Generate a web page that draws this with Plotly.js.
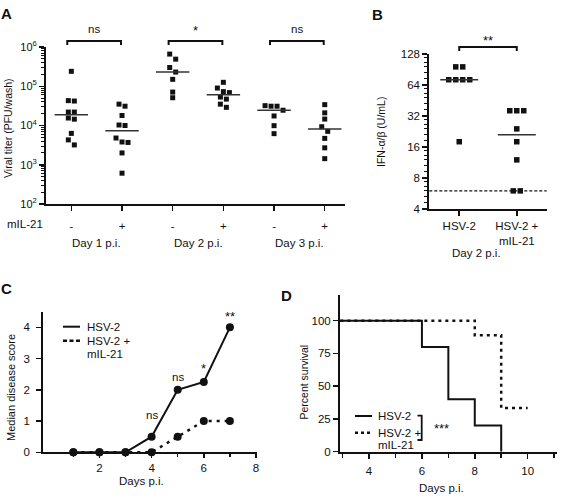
<!DOCTYPE html>
<html>
<head>
<meta charset="utf-8">
<script src="https://cdn.plot.ly/plotly-3.0.1.min.js"></script>
<style>
  html, body { margin: 0; padding: 0; background: #fff; }
  #fig { width: 571px; height: 499px; }
</style>
</head>
<body>
<div id="fig"></div>
<script>
// ---------- Panel A: viral titer in vaginal washes (PFU/wash) ----------
const dayLabelsA = ['Day 1 p.i.', 'Day 2 p.i.', 'Day 3 p.i.'];
const signsA = ['-', '+', '-', '+', '-', '+'];
const titerD1Ctrl = [2.4e5, 4.2e4, 4.3e4, 2.2e4, 2.2e4, 1.45e4, 1.55e4, 6.3e3, 4.3e3, 3.2e3];
const titerD1IL21 = [3.5e4, 3.1e4, 1.8e4, 1.0e4, 1.03e4, 4.8e3, 3.7e3, 3.8e3, 2.0e3, 6.1e2];
const titerD2Ctrl = [6.6e5, 4.9e5, 3.0e5, 2.3e5, 1.5e5, 7.1e4, 5.1e4];
const titerD2IL21 = [1.26e5, 9.0e4, 7.3e4, 6.9e4, 5.3e4, 4.7e4, 3.5e4, 2.9e4];
const titerD3Ctrl = [3.2e4, 3.1e4, 3.1e4, 2.45e4, 1.75e4, 9.9e3, 6.2e3];
const titerD3IL21 = [3.4e4, 2.1e4, 1.46e4, 9.3e3, 7.1e3, 4.7e3, 2.7e3, 1.43e3];
const sigA = ['ns', '*', 'ns'];

// ---------- Panel B: IFN-alpha/beta at day 2 p.i. ----------
const groupsB = ['HSV-2', 'HSV-2 +<br>mIL-21'];
const ifnCtrl = [96, 96, 72, 72, 72, 72, 18];
const ifnIL21 = [36, 36, 36, 24, 18, 12, 6, 6];
const ifnDetectionLimit = 6;
const sigB = '**';

// ---------- Panel C: median disease score ----------
const daysC = [1, 2, 3, 4, 5, 6, 7];
const scoreCtrl = [0, 0, 0, 0.5, 2, 2.25, 4];
const scoreIL21 = [0, 0, 0, 0, 0.5, 1, 1];
const sigDaysC = [4, 5, 6, 7];
const sigC = ['ns', 'ns', '*', '**'];

// ---------- Panel D: survival ----------
const survDaysCtrl = [0, 6, 7, 8, 9];
const survCtrl = [100, 80, 40, 20, 0];
const survDaysIL21 = [0, 8, 9, 10];
const survIL21 = [100, 88.9, 33.3, 33.3];
const sigD = '***';

// ---------- page geometry (pixels) ----------
const W = 571, H = 499;
const px = v => v / W;
const py = v => 1 - v / H;
const FONT = 'Liberation Sans, Arial, sans-serif';
const INK = '#111';

const geomA = { x0: 46, x1: 345, y0: 47, y1: 204, xr: [0.5, 6.4], yr: [2, 6] };
const geomB = { x0: 429.3, x1: 546.7, y0: 54, y1: 209, xr: [0.48, 2.52], yr: [Math.log10(4), Math.log10(128)] };
const geomC = { x0: 43.3, x1: 257.3, y0: 311.7, y1: 452.3, xr: [-0.15, 8.05], yr: [0, 4.5] };
const geomD = { x0: 340, x1: 556.7, y0: 294.5, y1: 451.7, xr: [2.9, 11.1], yr: [0, 120] };

// spread points that sit at nearly the same height into a symmetric row
function swarm(vals, center, yPix, pxPerCat, stepPx, tolPx) {
  const order = vals.map((v, i) => i).sort((a, b) => yPix(vals[a]) - yPix(vals[b]));
  const xs = new Array(vals.length);
  let row = [];
  const flush = () => {
    row.forEach((k, j) => { xs[k] = center + (j - (row.length - 1) / 2) * stepPx / pxPerCat; });
    row = [];
  };
  order.forEach(k => {
    if (row.length && Math.abs(yPix(vals[k]) - yPix(vals[row[0]])) > tolPx) flush();
    row.push(k);
  });
  flush();
  return xs;
}
function median(arr) {
  const s = [...arr].sort((a, b) => a - b);
  const n = s.length;
  return n % 2 ? s[(n - 1) / 2] : (s[n / 2 - 1] + s[n / 2]) / 2;
}

const traces = [];

// Panel A scatter with medians
const seriesA = [titerD1Ctrl, titerD1IL21, titerD2Ctrl, titerD2IL21, titerD3Ctrl, titerD3IL21];
const pxPerDecA = (geomA.y1 - geomA.y0) / (geomA.yr[1] - geomA.yr[0]);
const pxPerCatA = (geomA.x1 - geomA.x0) / (geomA.xr[1] - geomA.xr[0]);
seriesA.forEach((vals, i) => {
  const c = i + 1;
  const xs = swarm(vals, c, v => -Math.log10(v) * pxPerDecA, pxPerCatA, 6, 5.5);
  traces.push({
    type: 'scatter', mode: 'markers', xaxis: 'x', yaxis: 'y', x: xs, y: vals,
    marker: { symbol: 'square', size: 5, color: INK }, cliponaxis: false, showlegend: false, hoverinfo: 'y'
  });
  const m = median(vals);
  traces.push({
    type: 'scatter', mode: 'lines', xaxis: 'x', yaxis: 'y', x: [c - 0.33, c + 0.33], y: [m, m],
    line: { color: '#333', width: 1.5 }, showlegend: false, hoverinfo: 'skip'
  });
});

// Panel B scatter with medians
const seriesB = [ifnCtrl, ifnIL21];
const pxPerOctB = (geomB.y1 - geomB.y0) / Math.log2(128 / 4);
const pxPerCatB = (geomB.x1 - geomB.x0) / (geomB.xr[1] - geomB.xr[0]);
seriesB.forEach((vals, i) => {
  const c = i + 1;
  const xs = swarm(vals, c, v => -Math.log2(v) * pxPerOctB, pxPerCatB, 7, 5.5);
  traces.push({
    type: 'scatter', mode: 'markers', xaxis: 'x2', yaxis: 'y2', x: xs, y: vals,
    marker: { symbol: 'square', size: 5.5, color: INK }, cliponaxis: false, showlegend: false, hoverinfo: 'y'
  });
  const m = median(vals);
  traces.push({
    type: 'scatter', mode: 'lines', xaxis: 'x2', yaxis: 'y2', x: [c - 0.33, c + 0.33], y: [m, m],
    line: { color: '#333', width: 1.5 }, showlegend: false, hoverinfo: 'skip'
  });
});

// Panel C disease score
traces.push({
  type: 'scatter', mode: 'lines+markers', xaxis: 'x3', yaxis: 'y3', x: daysC, y: scoreIL21,
  line: { color: INK, width: 2.5, dash: '3px,5px' }, marker: { size: 8, color: INK },
  cliponaxis: false, showlegend: false
});
traces.push({
  type: 'scatter', mode: 'lines+markers', xaxis: 'x3', yaxis: 'y3', x: daysC, y: scoreCtrl,
  line: { color: INK, width: 2 }, marker: { size: 8, color: INK },
  cliponaxis: false, showlegend: false
});

// Panel D survival (step curves)
traces.push({
  type: 'scatter', mode: 'lines', xaxis: 'x4', yaxis: 'y4', x: survDaysIL21, y: survIL21,
  line: { color: INK, width: 2.5, shape: 'hv', dash: '3px,4px' }, showlegend: false
});
traces.push({
  type: 'scatter', mode: 'lines', xaxis: 'x4', yaxis: 'y4', x: survDaysCtrl, y: survCtrl,
  line: { color: INK, width: 2, shape: 'hv' }, showlegend: false
});

// ---------- axes ----------
function axis(extra) {
  return Object.assign({
    showline: true, linewidth: 2, linecolor: INK, mirror: false,
    ticks: 'outside', ticklen: 5, tickwidth: 1.5, tickcolor: INK,
    showgrid: false, zeroline: false, fixedrange: true,
    tickfont: { family: FONT, size: 11.5, color: INK }
  }, extra);
}
const minorA = [];
for (let k = 2; k < 6; k++) for (let m = 2; m <= 9; m++) minorA.push(m * Math.pow(10, k));
const minorB = [];
for (let k = 2; k < 7; k++) for (let j = 1; j < 6; j++) minorB.push(Math.pow(2, k) * (1 + j / 6));

const layout = {
  width: W, height: H,
  margin: { l: 0, r: 0, t: 0, b: 0 },
  paper_bgcolor: '#fff', plot_bgcolor: 'rgba(0,0,0,0)',
  font: { family: FONT, size: 11.5, color: INK },
  showlegend: false,
  xaxis: axis({
    domain: [px(geomA.x0), px(geomA.x1)], range: geomA.xr, anchor: 'y',
    tickvals: [1, 2, 3, 4, 5, 6], ticktext: signsA, ticklabelstandoff: 5
  }),
  yaxis: axis({
    domain: [py(geomA.y1), py(geomA.y0)], type: 'log', range: geomA.yr, anchor: 'x',
    tickvals: [1e2, 1e3, 1e4, 1e5, 1e6],
    ticktext: ['10<sup>2</sup>', '10<sup>3</sup>', '10<sup>4</sup>', '10<sup>5</sup>', '10<sup>6</sup>'],
    tickfont: { family: FONT, size: 11, color: INK },
    minor: { tickvals: minorA, ticks: 'outside', ticklen: 3, tickwidth: 1, tickcolor: INK, showgrid: false }
  }),
  xaxis2: axis({
    domain: [px(geomB.x0), px(geomB.x1)], range: geomB.xr, anchor: 'y2',
    tickvals: [1, 2], ticktext: groupsB
  }),
  yaxis2: axis({
    domain: [py(geomB.y1), py(geomB.y0)], type: 'log', range: geomB.yr, anchor: 'x2',
    tickvals: [4, 8, 16, 32, 64, 128], ticktext: ['4', '8', '16', '32', '64', '128'],
    minor: { tickvals: minorB, ticks: 'outside', ticklen: 3, tickwidth: 1, tickcolor: INK, showgrid: false }
  }),
  xaxis3: axis({
    domain: [px(geomC.x0), px(geomC.x1)], range: geomC.xr, anchor: 'y3',
    tickvals: [2, 4, 6, 8], ticklen: 4,
    minor: { tickvals: [1, 3, 5, 7], ticks: 'outside', ticklen: 3, tickwidth: 1.5, tickcolor: INK, showgrid: false }
  }),
  yaxis3: axis({
    domain: [py(geomC.y1), py(geomC.y0)], range: geomC.yr, anchor: 'x3',
    tickvals: [0, 1, 2, 3, 4], ticklabelstandoff: 4
  }),
  xaxis4: axis({
    domain: [px(geomD.x0), px(geomD.x1)], range: geomD.xr, anchor: 'y4',
    tickvals: [4, 6, 8, 10], ticklabelstandoff: 2,
    minor: { tickvals: [3, 5, 7, 9, 11], ticks: 'outside', ticklen: 4, tickwidth: 1.5, tickcolor: INK, showgrid: false }
  }),
  yaxis4: axis({
    domain: [py(geomD.y1), py(geomD.y0)], range: geomD.yr, anchor: 'x4',
    tickvals: [0, 25, 50, 75, 100]
  }),
  shapes: [],
  annotations: []
};

const ann = (text, x, y, opts) => layout.annotations.push(Object.assign({
  text, x: px(x), y: py(y), xref: 'paper', yref: 'paper',
  xanchor: 'center', yanchor: 'middle', showarrow: false,
  font: { family: FONT, size: 11.5, color: INK }
}, opts || {}));
const bold = { font: { family: FONT, size: 15, color: INK, weight: 'bold' } };

// panel letters
ann('<b>A</b>', 6, 13, bold);
ann('<b>B</b>', 377.5, 14, bold);
ann('<b>C</b>', 6, 288, bold);
ann('<b>D</b>', 286.7, 295, bold);

// ----- Panel A decorations -----
ann('Viral titer (PFU/wash)', 8, 128, { textangle: -90, font: { family: FONT, size: 10.5, color: INK } });
ann('mIL-21', 25.5, 224);
dayLabelsA.forEach((t, i) => layout.annotations.push({
  text: t, x: 2 * i + 1.5, y: py(243), xref: 'x', yref: 'paper',
  xanchor: 'center', yanchor: 'middle', showarrow: false,
  font: { family: FONT, size: 11.5, color: INK }
}));
const bracketTop = 41, bracketDrop = 4;
sigA.forEach((s, i) => {
  const a = 2 * i + 1 - 0.08, b = 2 * i + 2 - 0.02;
  layout.shapes.push({
    type: 'path', xref: 'x', yref: 'paper', layer: 'above',
    path: `M ${a},${py(bracketTop + bracketDrop)} L ${a},${py(bracketTop)} L ${b},${py(bracketTop)} L ${b},${py(bracketTop + bracketDrop)}`,
    line: { color: INK, width: 2 }
  });
  layout.annotations.push({
    text: s, x: (a + b) / 2, y: py(s === '*' ? 31 : 29), xref: 'x', yref: 'paper',
    xanchor: 'center', yanchor: 'middle', showarrow: false,
    font: { family: FONT, size: s === '*' ? 13 : 11.5, color: INK }
  });
});

// ----- Panel B decorations -----
ann('IFN-α/β (U/mL)', 381, 132, { textangle: -90, font: { family: FONT, size: 10.5, color: INK } });
ann('Day 2 p.i.', 476.7, 253.3);
layout.shapes.push({
  type: 'line', xref: 'x2 domain', yref: 'y2', x0: 0, x1: 1, y0: ifnDetectionLimit, y1: ifnDetectionLimit,
  line: { color: INK, width: 1.3, dash: '3px,2px' }, layer: 'below'
});
layout.shapes.push({
  type: 'path', xref: 'x2', yref: 'paper', layer: 'above',
  path: `M 1,${py(51)} L 1,${py(47)} L 2,${py(47)} L 2,${py(51)}`,
  line: { color: INK, width: 2 }
});
layout.annotations.push({
  text: sigB, x: 1.5, y: py(41), xref: 'x2', yref: 'paper',
  xanchor: 'center', yanchor: 'middle', showarrow: false,
  font: { family: FONT, size: 13, color: INK }
});

// ----- Panel C decorations -----
ann('Median disease score', 11, 388, { textangle: -90, font: { family: FONT, size: 11, color: INK } });
ann('Days p.i.', 141.7, 480.5);
const shiftsC = [22, 13, 14, 11];
sigDaysC.forEach((d, i) => layout.annotations.push({
  text: sigC[i], x: d, y: scoreCtrl[daysC.indexOf(d)], xref: 'x3', yref: 'y3',
  yshift: shiftsC[i], xanchor: 'center', yanchor: 'middle', showarrow: false,
  font: { family: FONT, size: sigC[i] === 'ns' ? 11.5 : 13, color: INK }
}));
layout.shapes.push({ type: 'line', xref: 'paper', yref: 'paper', x0: px(63), x1: px(80), y0: py(326.7), y1: py(326.7), line: { color: INK, width: 2 } });
layout.shapes.push({ type: 'line', xref: 'paper', yref: 'paper', x0: px(63), x1: px(80), y0: py(340.7), y1: py(340.7), line: { color: INK, width: 2.5, dash: '4px,2.5px' } });
ann('HSV-2', 85, 326.7, { xanchor: 'left' });
ann('HSV-2 +', 85, 340.7, { xanchor: 'left' });
ann('mIL-21', 85, 354, { xanchor: 'left' });

// ----- Panel D decorations -----
ann('Percent survival', 303, 382.5, { textangle: -90, font: { family: FONT, size: 10.5, color: INK } });
ann('Days p.i.', 441.7, 488.3);
layout.shapes.push({ type: 'line', xref: 'paper', yref: 'paper', x0: px(355), x1: px(372), y0: py(416), y1: py(416), line: { color: INK, width: 2 } });
layout.shapes.push({ type: 'line', xref: 'paper', yref: 'paper', x0: px(355), x1: px(372), y0: py(432.7), y1: py(432.7), line: { color: INK, width: 2.5, dash: '3px,3px' } });
ann('HSV-2', 376, 416, { xanchor: 'left' });
ann('HSV-2 +', 376, 432.7, { xanchor: 'left' });
ann('mIL-21', 376, 445, { xanchor: 'left' });
layout.shapes.push({
  type: 'path', xref: 'paper', yref: 'paper',
  path: `M ${px(417.5)},${py(415.7)} L ${px(421.7)},${py(415.7)} L ${px(421.7)},${py(440)} L ${px(417.5)},${py(440)}`,
  line: { color: INK, width: 1.8 }
});
ann(sigD, 441.7, 428, { font: { family: FONT, size: 13, color: INK } });

Plotly.newPlot('fig', traces, layout, { staticPlot: true, displayModeBar: false });
</script>
</body>
</html>
